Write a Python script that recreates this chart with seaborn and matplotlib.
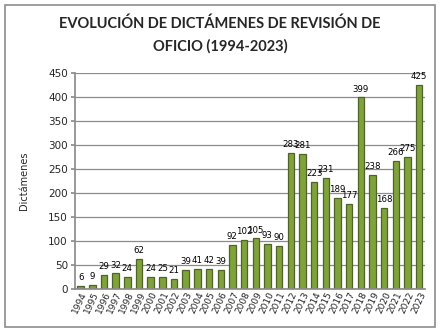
import matplotlib
matplotlib.use("Agg")
import matplotlib.pyplot as plt
import seaborn as sns
import pandas as pd
from matplotlib.patches import Rectangle

years = [str(y) for y in range(1994, 2024)]
values = [6, 9, 29, 32, 24, 62, 24, 25, 21, 39, 41, 42, 39, 92, 102, 105, 93, 90,
          283, 281, 223, 231, 189, 177, 399, 238, 168, 266, 275, 425]
yticks = [0, 50, 100, 150, 200, 250, 300, 350, 400, 450]
title = "EVOLUCIÓN DE DICTÁMENES DE REVISIÓN DE\nOFICIO (1994-2023)"
ylabel = "Dictámenes"

df = pd.DataFrame({"year": years, "value": values})

sns.set_theme(style="white")
plt.rcParams['font.family'] = ['DejaVu Sans']

fig = plt.figure(figsize=(4.4, 3.32), dpi=100)
ax = fig.add_axes([0.17, 0.13, 0.796, 0.65])

sns.barplot(data=df, x="year", y="value", ax=ax, color="#7FA33A",
            saturation=1, width=0.55, edgecolor="#4F6228", linewidth=0.9)

ax.set_ylim(0, 450)
ax.set_yticks(yticks)
ax.set_yticklabels([str(t) for t in yticks], fontsize=7.5)
ax.yaxis.grid(True, color="#8c8c8c", linewidth=0.9)
ax.set_axisbelow(True)
ax.set_xlabel("")
ax.set_ylabel(ylabel, fontsize=7, labelpad=14)
ax.tick_params(axis='x', labelsize=6.5, rotation=65, pad=1, length=0)
ax.tick_params(axis='y', length=3, pad=2, left=True, color="#8c8c8c")
for lbl in ax.get_xticklabels():
    lbl.set_ha('right')
    lbl.set_rotation_mode('anchor')
for s in ["top", "right"]:
    ax.spines[s].set_visible(False)
ax.spines["left"].set_color("#8c8c8c")
ax.spines["bottom"].set_color("#8c8c8c")

for i, v in enumerate(values):
    ax.text(i, v + 8, str(v), ha="center", va="bottom", fontsize=6.2, color="black")

fig.text(0.5, 0.895, title, ha="center", va="center", fontsize=10.5,
         fontweight="bold", linespacing=1.7, family=["Lato", "DejaVu Sans"])

fig.patches.append(Rectangle((0.012, 0.015), 0.976, 0.97, transform=fig.transFigure,
                             fill=False, edgecolor="#8c8c8c", linewidth=1.2))

fig.savefig("out.png", dpi=100)
